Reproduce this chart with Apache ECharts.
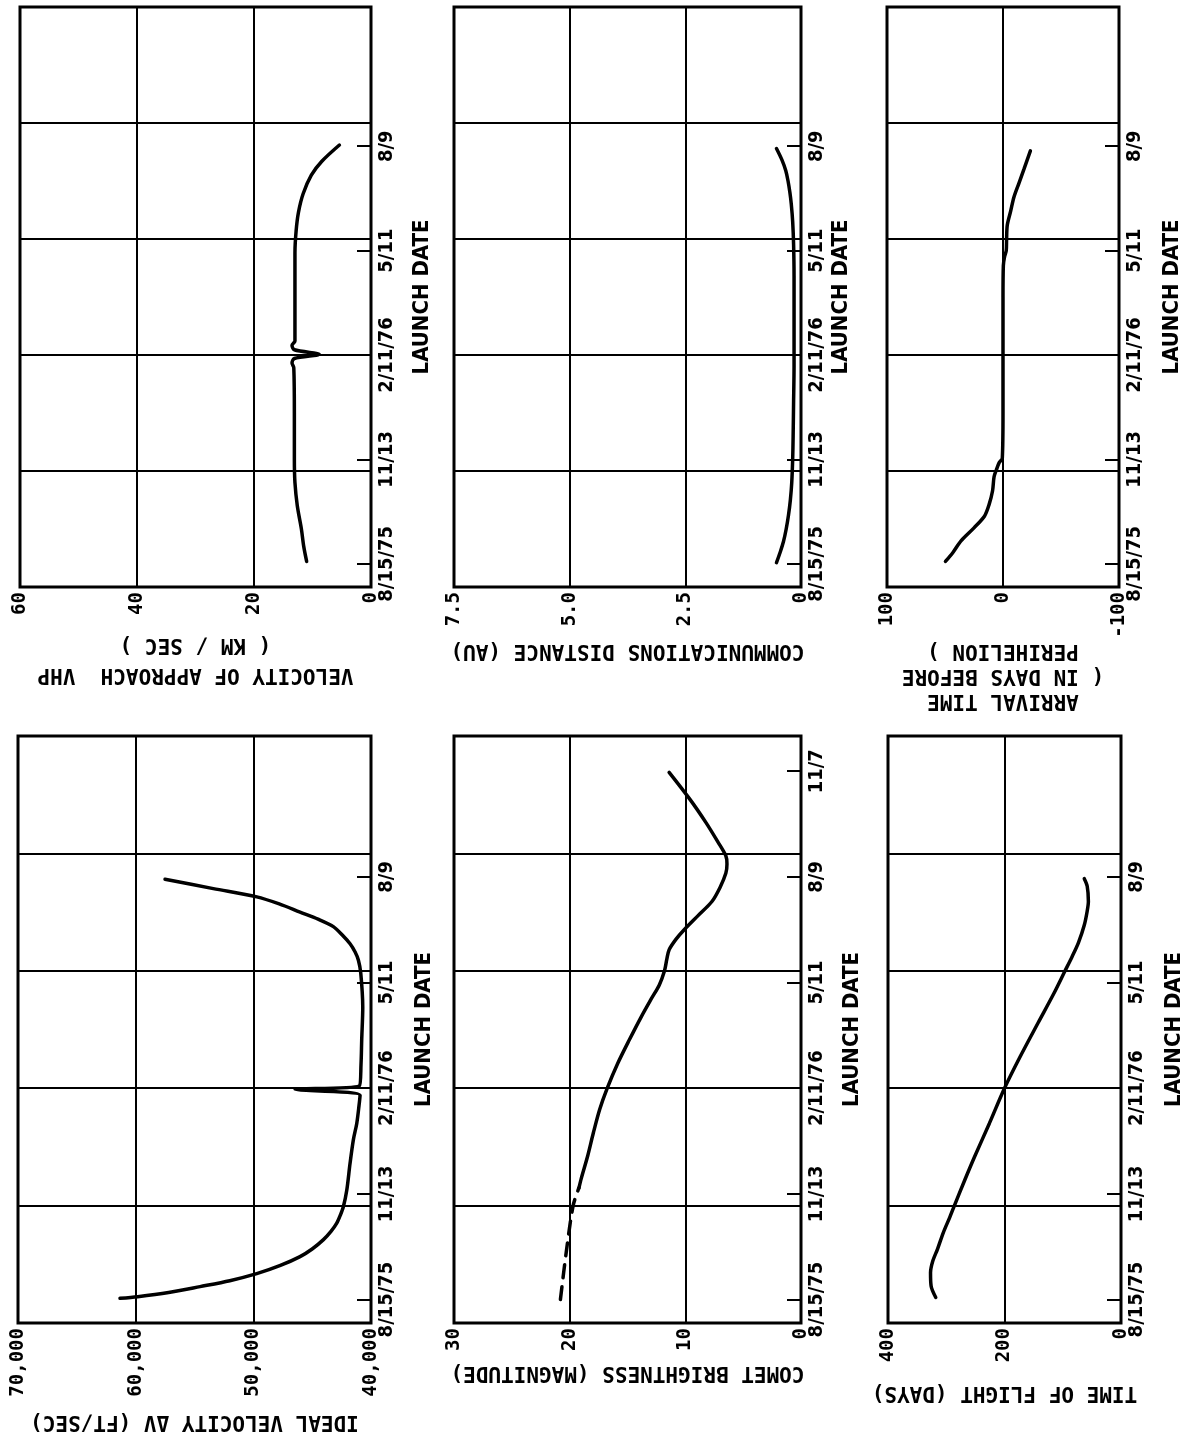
<!DOCTYPE html>
<html>
<head>
<meta charset="utf-8">
<script src="https://cdn.jsdelivr.net/npm/echarts@6/dist/echarts.min.js"></script>
<style>
html, body { margin: 0; padding: 0; background: #ffffff; }
#chart { width: 1184px; height: 1442px; }
</style>
</head>
<body>
<div id="chart"></div>
<script>
// ---------- launch-date axis (days from axis start) ----------
const launchTickDays = [20, 110, 200, 290, 380];
const launchTickLabels = ['8/15/75', '11/13', '2/11/76', '5/11', '8/9'];
const brightTickDays = [20, 110, 200, 290, 380, 470];
const brightTickLabels = ['8/15/75', '11/13', '2/11/76', '5/11', '8/9', '11/7'];

// ---------- value-axis ticks ----------
const vhpTicks = [0, 20, 40, 60];
const commTicks = [0, 2.5, 5.0, 7.5];
const arrivalTicks = [-100, 0, 100];
const dvTicks = [40000, 50000, 60000, 70000];
const brightTicks = [0, 10, 20, 30];
const tofTicks = [0, 200, 400];

// ---------- series: velocity of approach VHP (km/sec) ----------
const vhpDays   = [22, 35, 50, 70, 90, 110, 150, 189, 193, 197, 200.6, 204.5, 208.5, 212, 250, 288, 307, 323, 339, 355, 367, 381];
const vhpValues = [11.0, 11.5, 11.9, 12.6, 13.0, 13.1, 13.1, 13.2, 13.5, 13.1, 8.85, 13.1, 13.5, 13.0, 13.0, 13.0, 12.8, 12.4, 11.6, 10.2, 8.4, 5.4];

// ---------- series: communications distance (AU) ----------
const commDays   = [21, 30, 39, 50, 62, 75, 90, 110, 130, 160, 190, 230, 268, 295, 315, 330, 340, 350, 359, 368, 378];
const commValues = [0.53, 0.45, 0.38, 0.32, 0.27, 0.23, 0.20, 0.18, 0.17, 0.16, 0.15, 0.15, 0.15, 0.16, 0.18, 0.21, 0.24, 0.28, 0.33, 0.41, 0.53];

// ---------- series: arrival time (days before perihelion) ----------
const arrivalDays   = [22, 30, 40, 51, 61, 71, 83, 95, 101, 107, 111, 150, 200, 250, 277, 285, 290, 300, 312, 324, 336, 348, 360, 376];
const arrivalValues = [49.6, 43, 36, 25, 16, 12, 9, 7.7, 5.7, 3.4, 0.6, 0, 0, 0, -0.3, -1.4, -2.8, -3.1, -3.7, -6.6, -9.4, -13.7, -18, -23.6];

// ---------- series: ideal velocity dV (ft/sec) ----------
const dvDays   = [21, 22.4, 26, 31, 36, 42, 49, 56.5, 63, 71, 78, 85, 92, 99, 113, 136, 156, 170, 185, 194, 199, 202, 220, 241, 269, 298, 309, 316, 323, 330, 337.6, 344, 350, 357, 363, 370, 378];
const dvValues = [61330, 59830, 57200, 54530, 52000, 49710, 47700, 46030, 45000, 44040, 43400, 42910, 42600, 42350, 42060, 41780, 41500, 41210, 41020, 40930, 46450, 40990, 40850, 40790, 40700, 40870, 41070, 41350, 41780, 42400, 43200, 44500, 46030, 47800, 49710, 53400, 57505];

// ---------- series: comet brightness (magnitude) ----------
const brightDashDays   = [20, 60, 100, 115];
const brightDashValues = [20.8, 20.3, 19.7, 19.2];
const brightDays   = [115, 123, 142, 162, 182, 200, 221, 241, 261, 276, 288, 300, 310, 318, 327, 335, 347, 359, 371, 383, 391, 398, 410, 426, 446, 469];
const brightValues = [19.2, 19.0, 18.45, 17.95, 17.4, 16.75, 15.85, 14.85, 13.8, 12.95, 12.25, 11.8, 11.6, 11.4, 10.8, 10.1, 8.9, 7.7, 7.0, 6.5, 6.4, 6.5, 7.2, 8.2, 9.6, 11.4];

// ---------- series: time of flight (days) ----------
const tofDays   = [21.7, 31.5, 43, 53, 63, 77, 90, 100, 122, 142, 170, 200, 227, 256, 280, 300, 312, 324, 339, 351, 359, 372, 378.5];
const tofValues = [318, 326, 327, 323, 315, 305, 294, 286, 268, 251, 226, 200, 173, 142, 116, 96, 84, 73, 63, 58, 56, 58, 63];

// ---------- layout ----------
const INK = '#000000';
const panels = [
  { grid: { left: 20,  top: 7,   width: 351, height: 580 }, ticks: vhpTicks,     fmt: v => String(v),
    name: 'VELOCITY OF APPROACH  VHP\n( KM / SEC )', nameGap: 42, nameLH: 30, dGap: 40,
    tickDays: launchTickDays, tickLabels: launchTickLabels },
  { grid: { left: 454, top: 7,   width: 347, height: 580 }, ticks: commTicks,    fmt: v => v === 0 ? '0' : v.toFixed(1),
    name: 'COMMUNICATIONS DISTANCE (AU)', nameGap: 51, nameLH: 24, dGap: 29,
    tickDays: launchTickDays, tickLabels: launchTickLabels },
  { grid: { left: 887, top: 7,   width: 232, height: 580 }, ticks: arrivalTicks, fmt: v => String(v),
    name: 'ARRIVAL TIME\n( IN DAYS BEFORE\nPERIHELION )', nameGap: 51, nameLH: 25, dGap: 42,
    tickDays: launchTickDays, tickLabels: launchTickLabels },
  { grid: { left: 18,  top: 736, width: 353, height: 587 }, ticks: dvTicks,      fmt: v => v.toLocaleString('en-US'),
    name: 'IDEAL VELOCITY \u0394V (FT/SEC)', nameGap: 86, nameLH: 24, dGap: 42,
    tickDays: launchTickDays, tickLabels: launchTickLabels },
  { grid: { left: 454, top: 736, width: 347, height: 587 }, ticks: brightTicks,  fmt: v => String(v),
    name: 'COMET BRIGHTNESS (MAGNITUDE)', nameGap: 37, nameLH: 24, dGap: 40,
    tickDays: brightTickDays, tickLabels: brightTickLabels },
  { grid: { left: 888, top: 736, width: 233, height: 587 }, ticks: tofTicks,     fmt: v => String(v),
    name: 'TIME OF FLIGHT (DAYS)', nameGap: 57, nameLH: 24, dGap: 42,
    tickDays: launchTickDays, tickLabels: launchTickLabels }
];

const grids = [], xAxes = [], yAxes = [];
panels.forEach((p, i) => {
  const t = p.ticks;
  grids.push(Object.assign({ show: true, borderColor: INK, borderWidth: 3, backgroundColor: '#fff',
    containLabel: false, outerBoundsMode: 'none' }, p.grid));
  xAxes.push({
    type: 'value', gridIndex: i, position: 'bottom', inverse: true,
    min: t[0], max: t[t.length - 1], interval: t[1] - t[0],
    axisLine: { show: false }, axisTick: { show: false },
    splitLine: { show: true, lineStyle: { color: INK, width: 2 } },
    axisLabel: { show: true, rotate: 90, margin: 5, color: INK, fontFamily: 'DejaVu Sans Mono',
      fontWeight: 'bold', fontSize: 19, formatter: p.fmt, showMinLabel: true, showMaxLabel: true, hideOverlap: false },
    name: p.name, nameLocation: 'middle', nameRotate: 180, nameGap: p.nameGap, nameMoveOverlap: false,
    nameTextStyle: { color: INK, fontFamily: 'DejaVu Sans Mono', fontWeight: 'bold', fontSize: 21, lineHeight: p.nameLH, align: 'center' }
  });
  // gridline axis for launch date
  yAxes.push({
    type: 'value', gridIndex: i, position: 'right', min: 0, max: 500, interval: 100,
    axisLine: { show: false }, axisTick: { show: false }, axisLabel: { show: false },
    splitLine: { show: true, lineStyle: { color: INK, width: 2 } }
  });
  // tick/label axis for launch date
  const days = p.tickDays, labels = p.tickLabels;
  yAxes.push({
    type: 'value', gridIndex: i, position: 'right', min: 0, max: 500,
    axisLine: { show: false }, splitLine: { show: false },
    axisTick: { show: true, inside: true, length: 14, customValues: days, lineStyle: { color: INK, width: 2 } },
    axisLabel: { show: true, customValues: days, rotate: 90, margin: 6, color: INK,
      fontFamily: 'DejaVu Sans Condensed', fontWeight: 'bold', fontSize: 20, hideOverlap: false,
      formatter: v => { const k = days.findIndex(d => Math.abs(d - v) < 0.5); return k >= 0 ? labels[k] : ''; } },
    name: 'LAUNCH DATE', nameLocation: 'middle', nameRotate: 90, nameGap: p.dGap, nameMoveOverlap: false,
    nameTextStyle: { color: INK, fontFamily: 'DejaVu Sans Condensed', fontWeight: 'bold', fontSize: 22 }
  });
});

function pairs(days, vals) { return days.map((d, k) => [vals[k], d]); }
function line(i, days, vals, dashed) {
  return {
    type: 'line', xAxisIndex: i, yAxisIndex: i * 2, data: pairs(days, vals),
    symbol: 'none', showSymbol: false, smooth: 0.3, silent: true, animation: false,
    lineStyle: { color: INK, width: 3.5, type: dashed ? [13, 9] : 'solid', cap: 'round' }
  };
}

const series = [
  line(0, vhpDays, vhpValues),
  line(1, commDays, commValues),
  line(2, arrivalDays, arrivalValues),
  line(3, dvDays, dvValues),
  line(4, brightDashDays, brightDashValues, true),
  line(4, brightDays, brightValues),
  line(5, tofDays, tofValues)
];

const chart = echarts.init(document.getElementById('chart'), null, { renderer: 'canvas' });
chart.setOption({
  backgroundColor: '#ffffff',
  animation: false,
  grid: grids,
  xAxis: xAxes,
  yAxis: yAxes,
  series: series
});
</script>
</body>
</html>
